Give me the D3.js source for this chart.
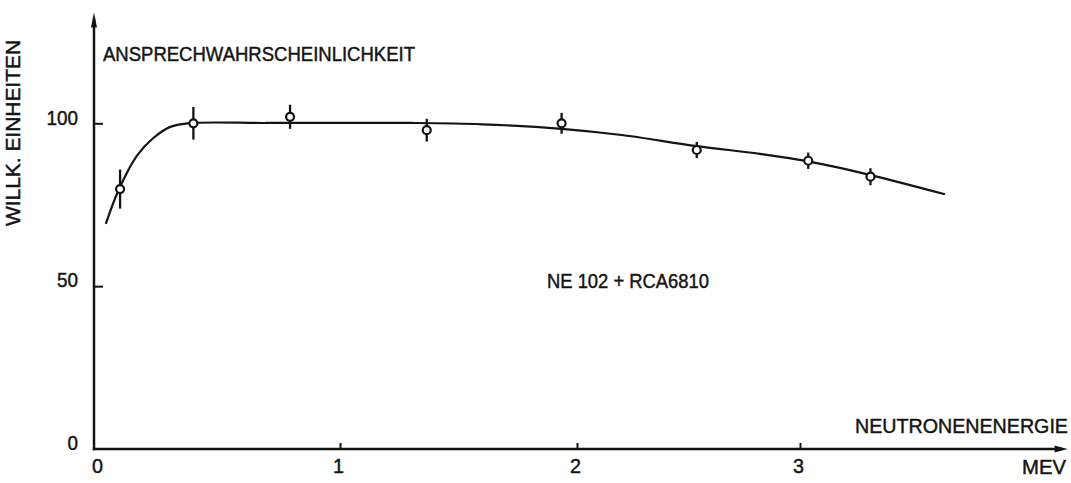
<!DOCTYPE html>
<html>
<head>
<meta charset="utf-8">
<script src="https://cdn.jsdelivr.net/npm/d3@7"></script>
<style>
  body { margin: 0; background: #fff; }
  svg { display: block; }
  text { font-family: "Liberation Sans", Arial, sans-serif; fill: #141414; stroke: #141414; stroke-width: 0.45px; }
</style>
</head>
<body>
<svg id="chart" width="1071" height="483"></svg>
<script>
// Measured response probability (arbitrary units) against neutron energy (MeV)
const energy   = [0.106, 0.404, 0.797, 1.366, 1.935, 2.537, 3.037, 3.316];
const response = [79.8, 100.0, 102.0, 97.9, 100.0, 91.8, 88.5, 83.6];
const errors   = [6.0, 5.0, 3.7, 3.5, 3.2, 2.5, 2.5, 2.6];

// Hand-fitted smooth curve through the measurements
const curveEnergy   = [0.048, 0.1, 0.174, 0.24, 0.31, 0.38, 0.7, 1.0, 1.3, 1.6, 1.935, 2.2, 2.537, 2.82, 3.037, 3.316, 3.65];
const curveResponse = [69.1, 79.5, 90.0, 95.4, 98.9, 100.0, 100.1, 100.1, 100.1, 99.7, 98.3, 96.4, 93.0, 90.6, 88.3, 84.1, 78.2];

// Axis ticks and labels
const xTicks = [0, 1, 2, 3];
const yTicks = [0, 50, 100];
const xAxisEnd = 4.2;   // energy where the x arrow ends
const yAxisEnd = 134;   // response where the y arrow ends

const svg = d3.select("#chart");
const ink = "#141414";
const font = "\"Liberation Sans\", Arial, sans-serif";

// The energy axis was ruled by hand, so its unit steps are slightly uneven
const x = d3.scaleLinear().domain([0, 1, 2, 3]).range([94, 340, 577, 800]);
const y = d3.scaleLinear().domain([0, 100]).range([449, 123.3]);

// Axis lines with arrowheads
const axes = svg.append("g").attr("stroke", ink).attr("stroke-width", 2.5).attr("fill", "none");
axes.append("line")
  .attr("x1", x(0)).attr("x2", x(0))
  .attr("y1", y(0) + 1.2).attr("y2", y(yAxisEnd) + 6);
axes.append("line")
  .attr("x1", x(0) - 1.2).attr("x2", x(xAxisEnd) - 6)
  .attr("y1", y(0)).attr("y2", y(0));

svg.append("path")
  .attr("d", `M${x(0)},${y(yAxisEnd)} L${x(0) + 3},${y(yAxisEnd) + 15} L${x(0) - 3},${y(yAxisEnd) + 15} Z`)
  .attr("fill", ink);
svg.append("path")
  .attr("d", `M${x(xAxisEnd)},${y(0)} L${x(xAxisEnd) - 13},${y(0) - 3.5} L${x(xAxisEnd) - 13},${y(0) + 3.5} Z`)
  .attr("fill", ink);

// Tick marks and labels
const xAxis = svg.append("g")
  .attr("transform", `translate(0,${y(0)})`)
  .call(d3.axisBottom(x).tickValues(xTicks).tickSize(-6).tickPadding(9).tickFormat(d3.format("d")));
xAxis.select(".domain").remove();
xAxis.selectAll(".tick line").attr("stroke", ink).attr("stroke-width", 2).filter(d => d === 0).remove();
xAxis.selectAll(".tick text").attr("font-size", 21).attr("fill", ink).attr("font-family", font)
  .attr("textLength", 11).attr("lengthAdjust", "spacingAndGlyphs")
  .attr("x", d => d === 0 ? 3 : -2);

const yAxis = svg.append("g")
  .attr("transform", `translate(${x(0)},0)`)
  .call(d3.axisLeft(y).tickValues(yTicks).tickSize(-9).tickPadding(16));
yAxis.select(".domain").remove();
yAxis.selectAll(".tick line").attr("stroke", ink).attr("stroke-width", 2).filter(d => d === 0).remove();
yAxis.selectAll(".tick text").attr("font-size", 21).attr("fill", ink).attr("font-family", font)
  .attr("textLength", d => String(d).length * 10.5).attr("lengthAdjust", "spacingAndGlyphs")
  .attr("y", -6);

// Fitted curve
const line = d3.line()
  .x((d, i) => x(curveEnergy[i]))
  .y(d => y(d))
  .curve(d3.curveCatmullRom.alpha(0.5));
svg.append("path")
  .datum(curveResponse)
  .attr("d", line)
  .attr("fill", "none")
  .attr("stroke", ink)
  .attr("stroke-width", 2.2);

// Error bars and open circles
const pts = svg.append("g");
pts.selectAll("line")
  .data(response)
  .join("line")
  .attr("x1", (d, i) => x(energy[i])).attr("x2", (d, i) => x(energy[i]))
  .attr("y1", (d, i) => y(d - errors[i])).attr("y2", (d, i) => y(d + errors[i]))
  .attr("stroke", ink).attr("stroke-width", 2.3);
pts.selectAll("circle")
  .data(response)
  .join("circle")
  .attr("cx", (d, i) => x(energy[i]))
  .attr("cy", d => y(d))
  .attr("r", 4)
  .attr("fill", "#fff")
  .attr("stroke", ink)
  .attr("stroke-width", 2.2);

// Text labels
const label = (txt, tx, ty, len, opts = {}) => {
  const t = svg.append("text")
    .attr("x", tx).attr("y", ty)
    .attr("font-size", opts.size || 20)
    .attr("text-anchor", opts.anchor || "start")
    .attr("dominant-baseline", "central")
    .attr("textLength", len)
    .attr("lengthAdjust", "spacingAndGlyphs")
    .text(txt);
  if (opts.rotate) t.attr("transform", `rotate(-90,${tx},${ty})`);
  return t;
};
label("ANSPRECHWAHRSCHEINLICHKEIT", 103, 54, 312);
label("WILLK. EINHEITEN", 13, 133, 186, { anchor: "middle", rotate: true });
label("NE 102 + RCA6810", 547, 281, 162);
label("NEUTRONENENERGIE", 855, 426, 213);
label("MEV", 1022, 467, 44);
</script>
</body>
</html>
